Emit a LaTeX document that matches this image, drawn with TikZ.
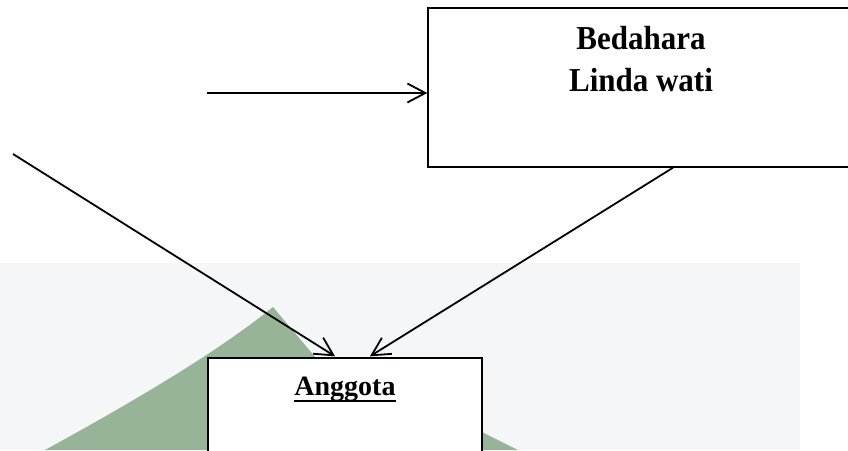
\documentclass[tikz,border=0pt]{standalone}
\usepackage{fontspec}
\setmainfont{Liberation Serif}
\usetikzlibrary{arrows.meta,calc}
\definecolor{wmgray}{HTML}{F5F6F7}
\definecolor{wmgreen}{RGB}{152,180,152}
\tikzset{
  box/.style={draw=black, line width=1.4pt, fill=white, rectangle, inner sep=0pt},
  conn/.style={line width=1.8pt, -{Straight Barb[length=18pt,width=19pt,line width=1.8pt]}},
  lbl/.style={font=\bfseries\fontsize{31}{37}\selectfont, inner sep=0pt, anchor=base},
  lblsmall/.style={font=\bfseries\fontsize{28}{34}\selectfont, inner sep=0pt, anchor=base},
  uline/.style={line width=2.3pt}
}
\begin{document}
\begin{tikzpicture}[x=1pt,y=-1pt]
\useasboundingbox (0,0) rectangle (848,450);
\clip (0,0) rectangle (848,450);
\fill[white] (0,0) rectangle (848,450);
% watermark background
\fill[wmgray] (0,263) rectangle (800,450);
\fill[wmgreen] (45,450) .. controls (140,398) and (220,350) .. (273,307) -- (316,358) -- (208,358) -- (208,450) -- cycle;
\fill[wmgreen] (482,432) -- (518,450) -- (482,450) -- cycle;
% boxes
\node[box, minimum width=427pt, minimum height=159pt] (bed) at (641.5,87.5) {};
\node[box, minimum width=274pt, minimum height=162pt] (ang) at (345,439) {};
% texts
\node[lbl] (bt1) at (641,49) {\scalebox{1}[1.08]{Bedahara}};
\node[lbl] (bt2) at (641,91) {\scalebox{1}[1.08]{Linda wati}};
\node[lblsmall] (at) at (345,395) {Anggota};
\draw[uline] ([yshift=-6pt]at.base west) -- ([yshift=-6pt]at.base east);
% connectors
\coordinate (s1) at (207,93);
\coordinate (s2) at (13,154);
\coordinate (t2) at ($(ang.north)+(-10,-1)$);
\coordinate (t3) at ($(ang.north)+(25,-1)$);
\coordinate (f3) at ($(bed.south)+(31.5,0)$);
\draw[conn] (s1) -- (s1 -| bed.west);
\draw[conn] (s2) -- (t2);
\draw[conn] (f3) -- (t3);
\end{tikzpicture}
\end{document}
